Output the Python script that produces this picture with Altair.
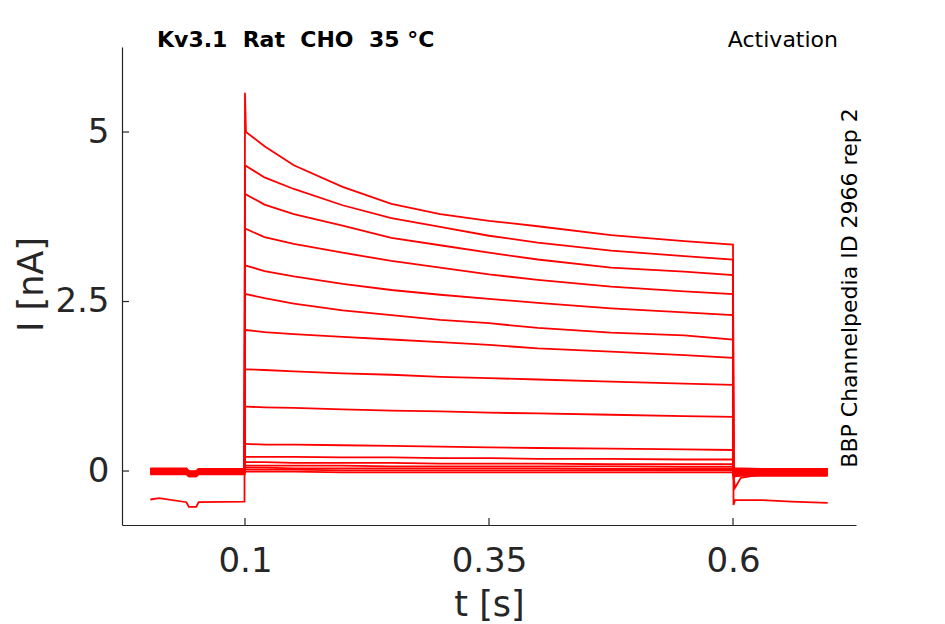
import altair as alt
import pandas as pd

# ---------------- data ----------------
TRACES = ["A", "B", "C", "D", "E", "F", "G", "H", "I", "J", "K", "L", "M", "N", "O", "P"]

# holding segment before the step (s)
PRE_T = [0.003, 0.012, 0.04, 0.0425, 0.05, 0.0525, 0.0995]
PRE_I = [
    [-0.42, -0.40, -0.46, -0.53, -0.53, -0.46, -0.45],
    [0.02, 0.02, 0.02, -0.03, -0.03, 0.01, 0.01],
    [0.00, 0.01, 0.00, -0.05, -0.05, 0.00, 0.00],
    [-0.03, -0.03, -0.03, -0.07, -0.07, -0.02, -0.02],
    [0.03, 0.03, 0.02, -0.02, -0.02, 0.03, 0.03],
    [-0.01, -0.01, -0.01, -0.05, -0.05, -0.01, -0.01],
    [0.01, 0.01, 0.01, -0.04, -0.04, 0.01, 0.01],
    [-0.04, -0.04, -0.04, -0.08, -0.08, -0.04, -0.04],
    [0.02, 0.02, 0.02, -0.02, -0.02, 0.02, 0.02],
    [-0.02, -0.02, -0.02, -0.06, -0.06, -0.02, -0.02],
    [0.00, 0.00, 0.00, -0.04, -0.04, 0.00, 0.00],
    [0.03, 0.03, 0.03, -0.01, -0.01, 0.02, 0.02],
    [-0.05, -0.05, -0.05, -0.08, -0.08, -0.05, -0.05],
    [0.01, 0.01, 0.01, -0.03, -0.03, 0.01, 0.01],
    [-0.02, -0.02, -0.02, -0.05, -0.05, -0.02, -0.02],
    [0.04, 0.04, 0.04, 0.00, 0.00, 0.03, 0.03],
]

# step segment (s)
PULSE_T = [0.1, 0.101, 0.12, 0.15, 0.2, 0.25, 0.3, 0.35, 0.4, 0.475, 0.55, 0.6]
PULSE_I = [
    [5.58, 5.00, 4.79, 4.51, 4.19, 3.94, 3.79, 3.69, 3.61, 3.48, 3.39, 3.34],
    [4.50, 4.50, 4.33, 4.16, 3.92, 3.73, 3.60, 3.47, 3.37, 3.25, 3.17, 3.12],
    [4.08, 4.08, 3.93, 3.79, 3.62, 3.44, 3.33, 3.22, 3.12, 3.00, 2.94, 2.89],
    [3.57, 3.57, 3.45, 3.35, 3.22, 3.10, 3.00, 2.90, 2.82, 2.72, 2.65, 2.61],
    [3.03, 3.03, 2.95, 2.87, 2.76, 2.67, 2.60, 2.54, 2.48, 2.40, 2.34, 2.30],
    [2.61, 2.61, 2.55, 2.47, 2.37, 2.30, 2.23, 2.18, 2.11, 2.04, 2.00, 1.94],
    [2.08, 2.08, 2.05, 2.02, 1.98, 1.94, 1.90, 1.86, 1.81, 1.76, 1.71, 1.67],
    [1.50, 1.50, 1.49, 1.47, 1.44, 1.42, 1.39, 1.37, 1.35, 1.32, 1.29, 1.27],
    [0.95, 0.95, 0.94, 0.93, 0.91, 0.89, 0.88, 0.86, 0.85, 0.83, 0.81, 0.80],
    [0.40, 0.40, 0.39, 0.39, 0.38, 0.37, 0.36, 0.35, 0.34, 0.33, 0.32, 0.31],
    [0.21, 0.21, 0.21, 0.21, 0.20, 0.20, 0.19, 0.19, 0.18, 0.18, 0.17, 0.17],
    [0.13, 0.13, 0.13, 0.12, 0.12, 0.12, 0.11, 0.11, 0.11, 0.10, 0.10, 0.10],
    [0.08, 0.08, 0.08, 0.08, 0.08, 0.07, 0.07, 0.07, 0.07, 0.07, 0.06, 0.06],
    [0.05, 0.05, 0.05, 0.04, 0.04, 0.04, 0.04, 0.04, 0.04, 0.03, 0.03, 0.03],
    [0.02, 0.02, 0.02, 0.02, 0.01, 0.01, 0.01, 0.01, 0.01, 0.01, 0.01, 0.01],
    [-0.01, -0.01, -0.01, -0.01, -0.02, -0.02, -0.02, -0.02, -0.02, -0.02, -0.02, -0.02],
]

# tail segment after the step (s)
POST_T = [0.6005, 0.602, 0.608, 0.63, 0.66, 0.697]
POST_I = [
    [-0.50, -0.43, -0.43, -0.43, -0.45, -0.47],
    [-0.06, -0.25, -0.10, -0.05, -0.05, -0.05],
    [-0.10, -0.08, -0.04, -0.02, -0.02, -0.02],
    [0.02, 0.02, 0.02, 0.02, 0.02, 0.02],
    [-0.03, -0.03, -0.03, -0.03, -0.03, -0.03],
    [0.04, 0.04, 0.04, 0.03, 0.03, 0.03],
    [-0.06, -0.06, -0.06, -0.06, -0.06, -0.06],
    [0.00, 0.00, 0.00, 0.00, 0.00, 0.00],
    [-0.08, -0.08, -0.07, -0.07, -0.07, -0.07],
    [0.01, 0.01, 0.01, 0.01, 0.01, 0.01],
    [-0.04, -0.04, -0.04, -0.04, -0.04, -0.04],
    [0.03, 0.03, 0.03, 0.03, 0.03, 0.03],
    [-0.01, -0.01, -0.01, -0.01, -0.01, -0.01],
    [-0.05, -0.05, -0.05, -0.05, -0.05, -0.05],
    [0.02, 0.02, 0.02, 0.02, 0.02, 0.02],
    [-0.02, -0.02, -0.02, -0.02, -0.02, -0.02],
]

X_TICKS = [0.1, 0.35, 0.6]
Y_TICKS = [0, 2.5, 5]
TITLE_LEFT = "Kv3.1\u00a0 Rat\u00a0 CHO\u00a0 35 °C"
TITLE_RIGHT = "Activation"
SIDE_TEXT = "BBP Channelpedia ID 2966 rep 2"

# ---------------- build table ----------------
rows = []
for k, name in enumerate(TRACES):
    seq = 0
    for ts, vs in ((PRE_T, PRE_I[k]), (PULSE_T, PULSE_I[k]), (POST_T, POST_I[k])):
        for t, v in zip(ts, vs):
            rows.append({"trace": name, "t": t, "I": v, "seq": seq})
            seq += 1
df = pd.DataFrame(rows)

W, H = 734, 478
FONT = "DejaVu Sans"
AX = "#262626"

xscale = alt.Scale(domain=[-0.026, 0.726], nice=False, zero=False)
yscale = alt.Scale(domain=[-0.796, 6.254], nice=False, zero=False)

xaxis = alt.Axis(
    values=X_TICKS, format=".2~f", ticks=False, grid=False,
    domainColor=AX, domainWidth=1.2,
    labelFont=FONT, labelFontSize=34, labelColor=AX, labelPadding=19,
    title="t [s]", titleFont=FONT, titleFontSize=35, titleFontWeight="normal",
    titleColor=AX, titleBaseline="alphabetic", titleY=90)
yaxis = alt.Axis(
    values=Y_TICKS, format=".1~f", ticks=False, grid=False,
    domainColor=AX, domainWidth=1.2,
    labelFont=FONT, labelFontSize=34, labelColor=AX, labelPadding=13,
    title="I [nA]", titleFont=FONT, titleFontSize=35, titleFontWeight="normal",
    titleColor=AX, titleBaseline="alphabetic", titleX=-80, titleY=237)

lines = alt.Chart(df).mark_line(color="#ff0000", strokeWidth=1.8, clip=True).encode(
    x=alt.X("t:Q", scale=xscale, axis=xaxis),
    y=alt.Y("I:Q", scale=yscale, axis=yaxis),
    detail="trace:N",
    order="seq:Q",
)

xt = alt.Chart(pd.DataFrame({"t": X_TICKS})).mark_rule(color=AX, strokeWidth=1.2).encode(
    x=alt.X("t:Q", scale=xscale, axis=xaxis),
    y=alt.value(H), y2=alt.value(H - 7),
)
yt = alt.Chart(pd.DataFrame({"I": Y_TICKS})).mark_rule(color=AX, strokeWidth=1.2).encode(
    y=alt.Y("I:Q", scale=yscale, axis=yaxis),
    x=alt.value(0), x2=alt.value(7),
)

tl = alt.Chart(pd.DataFrame({"s": [TITLE_LEFT]})).mark_text(
    font=FONT, fontSize=22, fontWeight="bold", color="black", align="left", baseline="alphabetic"
).encode(text="s:N", x=alt.value(35), y=alt.value(0))

tr = alt.Chart(pd.DataFrame({"s": [TITLE_RIGHT]})).mark_text(
    font=FONT, fontSize=22, color="black", align="right", baseline="alphabetic"
).encode(text="s:N", x=alt.value(716), y=alt.value(0))

side = alt.Chart(pd.DataFrame({"s": [SIDE_TEXT]})).mark_text(
    font=FONT, fontSize=22, color="black", align="center", baseline="alphabetic", angle=270
).encode(text="s:N", x=alt.value(735), y=alt.value(241))

chart = alt.layer(lines, xt, yt, tl, tr, side).properties(
    width=W, height=H,
    padding={"left": 114, "top": 39, "right": 80, "bottom": 100},
    autosize=alt.AutoSizeParams(type="none"),
).configure(background="white", view=alt.ViewConfig(stroke=None))

chart.save("out.html", embed_options={"renderer": "svg", "actions": False})
